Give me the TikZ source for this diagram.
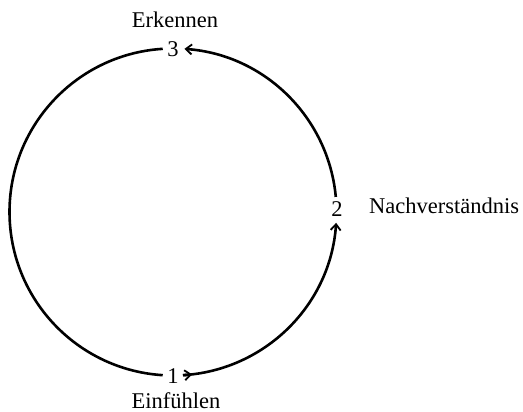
\documentclass[tikz,border=0pt]{standalone}
\usepackage{fontspec}
\setmainfont{Liberation Serif}
\usetikzlibrary{arrows.meta}
\begin{document}
\begin{tikzpicture}[x=1pt,y=-1pt,
  lbl/.style={font=\fontsize{22.5}{26}\selectfont, inner sep=0pt, anchor=base},
  arcline/.style={line width=2.6pt},
  barb/.style={-{Straight Barb[length=6pt,width=10pt,line width=1.8pt]}}]
\useasboundingbox (0,0) rectangle (523,412);
\coordinate (c) at (173,212);
\node[lbl] (n3) at (173,57) {3};
\node[lbl] (n2) at (337,216) {2};
\node[lbl] (n1) at (173,383) {1};
\node[lbl] (erk) at (175,28) {Erkennen};
\node[lbl, anchor=base west] (nach) at (369,214) {Nachverständnis};
\node[lbl] (ein) at (176,408) {Einfühlen};
% arc 1 -> 2
\draw[arcline, barb]
  ([shift={(86.5:163.5)}]c) arc[start angle=86.5, end angle=3.8, radius=163.5];
% direction mark near 1
\draw[arcline, barb]
  ([shift={(86.5:163.5)}]c) arc[start angle=86.5, end angle=83.3, radius=163.5];
% arc 2 -> 3
\draw[arcline, barb]
  ([shift={(-5.3:163.5)}]c) arc[start angle=-5.3, end angle=-86, radius=163.5];
% arc 3 -> 1 (left)
\draw[arcline]
  ([shift={(-93.6:163.5)}]c) arc[start angle=-93.6, end angle=-266.4, radius=163.5];
\end{tikzpicture}
\end{document}
